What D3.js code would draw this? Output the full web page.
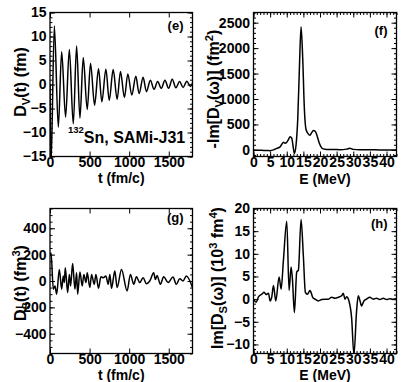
<!DOCTYPE html>
<html>
<head>
<meta charset="utf-8">
<script src="https://cdn.jsdelivr.net/npm/d3@7"></script>
<style>
  body { margin: 0; background: #fff; }
  svg text { font-family: "Liberation Sans", Arial, Helvetica, sans-serif; font-weight: bold; fill: #000; }
</style>
</head>
<body>
<svg id="chart" width="401" height="382"></svg>
<script>
// (e) D_V(t) in fm -- turning points
const tV = [0, 12, 55, 105, 147, 197, 244, 294, 336, 378, 420, 470, 512, 563, 613, 655, 706, 748, 798, 848,
  890, 940, 983, 1033, 1084, 1126, 1176, 1218, 1268, 1314, 1360, 1406, 1452, 1498, 1544, 1590, 1636, 1682, 1728, 1774, 1800];
const dV = [0, -17, 12.2, -8.9, 6.8, -6.8, 7.3, -8.2, 8.0, -7.0, 5.6, -5.2, 4.4, -4.3, 3.3, -3.6, 3.2, -3.3, 3.1, -3.1,
  2.7, -2.7, 2.2, -2.2, 1.7, -1.9, 1.5, -1.5, 0.9, -1.0, 0.6, -0.8, 0.9, -0.8, 1.1, -0.7, 0.6, -0.6, 0.7, -0.4, 0.3];

// (f) -Im[D_V(w)] in fm^2
const eF = [0, 1, 2, 3, 4, 5, 6, 7, 8, 8.5, 9, 9.5, 10, 10.5, 11, 11.5, 12, 12.3, 12.8, 13.3, 13.8, 14.3, 14.8, 15.3,
  15.8, 16.4, 17, 17.5, 18, 18.6, 19.2, 19.8, 20.4, 21, 22, 24, 26, 28, 29, 30, 32, 35, 38, 40, 43];
const sF = [0, -5, -8, -10, -12, -15, 0, 30, 60, 110, 150, 130, 150, 200, 260, 230, 30, -70, 100, 600, 1600, 2420, 1800, 800,
  400, 320, 290, 340, 380, 360, 260, 130, 50, 20, 10, 10, 5, 15, 30, 10, 5, 5, 0, 0, 0];

// (g) D_S(t) in fm^3
const tS = [0, 13, 42, 63, 84, 118, 147, 168, 181, 193, 223, 244, 260, 286, 315, 336, 349, 378, 407, 428, 454, 470, 504,
  525, 559, 580, 613, 643, 672, 706, 735, 756, 777, 819, 848, 903, 974, 1016, 1058, 1092, 1134, 1176, 1218, 1260,
  1310, 1331, 1352, 1394, 1436, 1491, 1554, 1596, 1638, 1680, 1722, 1800];
const dS = [200, 212, -62, -38, -100, 88, -62, 38, -12, 100, -88, 50, -38, 132, -62, 62, -100, 68, -38, 50, -12, 62, -50,
  50, -25, 50, -55, 32, 25, 38, -25, 50, -55, 75, -50, 88, -75, 50, -25, 32, -12, 25, -20, 0,
  62, 12, 42, -25, 32, -12, 30, -25, 18, 0, 38, -50];

// (h) Im[D_S(w)] in 10^3 fm^4
const eH = [0, 0.8, 1.5, 2.5, 3.2, 3.8, 4.5, 5, 5.5, 6, 6.7, 7.7, 8.3, 9, 10, 10.7, 11.3, 11.7, 12.3, 13, 13.5, 14.3, 15,
  15.6, 16.2, 17, 17.8, 18.5, 19.5, 20.5, 21.5, 22.5, 23.5, 24.5, 25.5, 26.5, 27, 27.5, 28, 28.7, 29.5, 30.2, 31,
  31.5, 32, 32.5, 33.2, 34, 35, 36, 37, 38, 39, 40, 41, 42, 43];
const sH = [0, -0.7, 0.5, 1.1, 1.5, 1.0, 1.3, -0.4, 0.5, 3.0, -0.4, 4.9, 2.2, 8.6, 17.2, 1.9, 7.1, 4.5, -3.0, 6.0, 6.4, 17.6, 9.4,
  1.5, 1.1, 1.9, 0.4, 0, -0.4, -0.1, 0, 0, 0.4, 0.2, 0.4, 0.75, 1.3, 0, 0.5, -0.4, -4.1, -12.3, -2.6,
  0.75, -0.3, -1.5, -0.4, 0, 0.4, 0, 0.2, -0.1, 0.2, -0.1, 0.1, 0, 0.1];

const timeTicks = [0, 500, 1000, 1500];
const energyTicks = [0, 5, 10, 15, 20, 25, 30, 35, 40];
const eTicks = [-15, -10, -5, 0, 5, 10, 15];
const fTicks = [0, 500, 1000, 1500, 2000, 2500];
const gTicks = [-400, -200, 0, 200, 400];
const hTicks = [-10, -5, 0, 5, 10, 15, 20];

const svg = d3.select('#chart');
const tickSize = 14;
const xTitleSize = 14;
const yTitleSize = 16;
const fmt = d3.format('d');

// text with sub/superscripts: parts = [[string, 'n' | 'sub' | 'sup'], ...]
function richText(sel, parts, size) {
  let shift = 0;
  parts.forEach(([s, kind]) => {
    const target = kind === 'sub' ? size * 0.27 : kind === 'sup' ? -size * 0.4 : 0;
    sel.append('tspan')
      .attr('dy', target - shift)
      .style('font-size', (kind === 'n' ? size : size * 0.7) + 'px')
      .text(s);
    shift = target;
  });
}

function drawPanel(p) {
  const x = d3.scaleLinear().domain(p.xDomain).range([p.left, p.right]);
  const y = d3.scaleLinear().domain(p.yDomain).range([p.bottom, p.top]);
  const g = svg.append('g');

  const clipId = 'clip-' + p.tag;
  svg.append('clipPath').attr('id', clipId).append('rect')
    .attr('x', p.left).attr('y', p.top)
    .attr('width', p.right - p.left).attr('height', p.bottom - p.top);

  // inward ticks on all four sides, minor then major
  const minorX = p.xMinor ? d3.range(p.xDomain[0], p.xDomain[1] + 1e-9, p.xMinor) : [];
  const minorY = d3.range(Math.ceil(p.yDomain[0] / p.yMinor) * p.yMinor, p.yDomain[1] + 1e-9, p.yMinor);
  const axes = [
    [d3.axisBottom(x), p.bottom, true], [d3.axisTop(x), p.top, true],
    [d3.axisLeft(y), p.left, false], [d3.axisRight(y), p.right, false]
  ];
  axes.forEach(([ax, pos, horiz]) => {
    const shift = horiz ? `translate(0,${pos})` : `translate(${pos},0)`;
    const major = horiz ? p.xTicks : p.yTicks;
    const minor = horiz ? minorX : minorY;
    g.append('g').attr('transform', shift)
      .call(ax.tickValues(minor).tickSize(-2.5).tickFormat(''))
      .call(a => a.select('.domain').remove());
    g.append('g').attr('transform', shift)
      .call(ax.tickValues(major).tickSize(-5).tickFormat(''))
      .call(a => a.select('.domain').remove());
  });
  g.selectAll('.tick line').attr('stroke', '#000').attr('stroke-width', 1);

  // tick labels
  g.append('g').attr('transform', `translate(0,${p.bottom})`)
    .call(d3.axisBottom(x).tickValues(p.xTicks).tickSize(0).tickPadding(1).tickFormat(fmt))
    .call(a => a.select('.domain').remove())
    .selectAll('text').style('font-size', tickSize + 'px');
  g.append('g').attr('transform', `translate(${p.left},0)`)
    .call(d3.axisLeft(y).tickValues(p.yTicks).tickSize(0).tickPadding(3.5).tickFormat(fmt))
    .call(a => a.select('.domain').remove())
    .selectAll('text').style('font-size', tickSize + 'px');

  // curve
  const line = d3.line()
    .x((d, i) => x(p.xs[i]))
    .y((d, i) => y(p.ys[i]))
    .curve(d3.curveMonotoneX);
  g.append('path')
    .attr('clip-path', `url(#${clipId})`)
    .attr('d', line(p.xs))
    .attr('fill', 'none')
    .attr('stroke', '#000')
    .attr('stroke-width', 1.5);

  // frame
  g.append('rect')
    .attr('x', p.left).attr('y', p.top)
    .attr('width', p.right - p.left).attr('height', p.bottom - p.top)
    .attr('fill', 'none').attr('stroke', '#000').attr('stroke-width', 1.3);

  // panel tag
  g.append('text').attr('x', p.right - 9).attr('y', p.top + p.tagDy)
    .attr('text-anchor', 'end').style('font-size', '13px').text(`(${p.tag})`);

  // axis titles
  const xt = g.append('text')
    .attr('x', (p.left + p.right) / 2).attr('y', p.xTitleY)
    .attr('text-anchor', 'middle');
  richText(xt, p.xTitle, xTitleSize);
  const yt = g.append('text')
    .attr('transform', `translate(${p.yTitleX},${p.yTitleMid}) rotate(-90)`)
    .attr('text-anchor', 'middle');
  richText(yt, p.yTitle, yTitleSize);

  return { x, y, g };
}

const colL = [50, 192.5], colR = [253.5, 396.5];
const rowT = [12.5, 156.5], rowB = [208.5, 353.5];

const pe = drawPanel({
  tag: 'e', tagDy: 17.5, left: colL[0], right: colL[1], top: rowT[0], bottom: rowT[1],
  xDomain: [0, 1800], yDomain: [-15, 15], xTicks: timeTicks, xMinor: 0, yTicks: eTicks, yMinor: 1,
  xs: tV, ys: dV, xTitleY: 183, yTitleX: 26, yTitleMid: 82,
  xTitle: [['t (fm/c)', 'n']],
  yTitle: [['D', 'n'], ['V', 'sub'], ['(t) (fm)', 'n']]
});

drawPanel({
  tag: 'f', tagDy: 22, left: colR[0], right: colR[1], top: rowT[0], bottom: rowT[1],
  xDomain: [0, 43], yDomain: [-130, 2700], xTicks: energyTicks, xMinor: 1, yTicks: fTicks, yMinor: 100,
  xs: eF, ys: sF, xTitleY: 184, yTitleX: 219, yTitleMid: 89,
  xTitle: [['E (MeV)', 'n']],
  yTitle: [['-Im[D', 'n'], ['V', 'sub'], ['(ω)] (fm', 'n'], ['2', 'sup'], [')', 'n']]
});

drawPanel({
  tag: 'g', tagDy: 13.5, left: colL[0], right: colL[1], top: rowB[0], bottom: rowB[1],
  xDomain: [0, 1800], yDomain: [-550, 550], xTicks: timeTicks, xMinor: 0, yTicks: gTicks, yMinor: 50,
  xs: tS, ys: dS, xTitleY: 379.5, yTitleX: 26, yTitleMid: 283,
  xTitle: [['t (fm/c)', 'n']],
  yTitle: [['D', 'n'], ['S', 'sub'], ['(t) (fm', 'n'], ['3', 'sup'], [')', 'n']]
});

drawPanel({
  tag: 'h', tagDy: 19.5, left: colR[0], right: colR[1], top: rowB[0], bottom: rowB[1],
  xDomain: [0, 43], yDomain: [-12, 20], xTicks: energyTicks, xMinor: 1, yTicks: hTicks, yMinor: 1,
  xs: eH, ys: sH, xTitleY: 379.5, yTitleX: 223, yTitleMid: 278,
  xTitle: [['E (MeV)', 'n']],
  yTitle: [['Im[D', 'n'], ['S', 'sub'], ['(ω)] (10', 'n'], ['3', 'sup'], [' fm', 'n'], ['4', 'sup'], [')', 'n']]
});

// nucleus / interaction label in panel (e)
const note = pe.g.append('text').attr('x', 68).attr('y', 142.5);
note.append('tspan').attr('dy', -10).style('font-size', '9.5px').text('132');
note.append('tspan').attr('dy', 10).style('font-size', '16px').text('Sn, SAMi-J31');
</script>
</body>
</html>
